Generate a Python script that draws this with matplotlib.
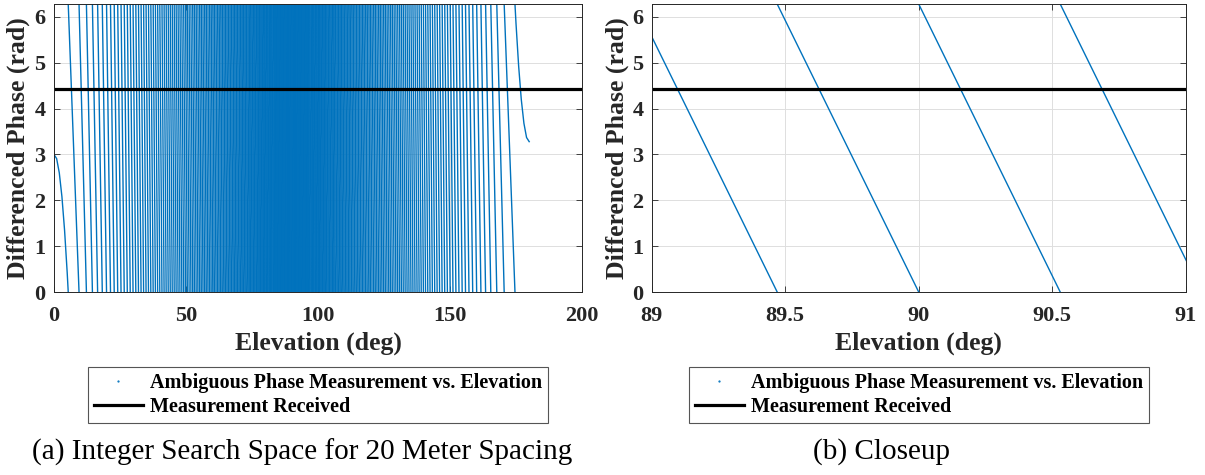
import numpy as np
import matplotlib
matplotlib.use("Agg")
import matplotlib.pyplot as plt
from matplotlib.lines import Line2D

plt.rcParams['font.family'] = ['Liberation Serif', 'DejaVu Serif']

# elevations (deg) where the ambiguous phase hits 0 and wraps back to 2*pi
wrap_deg = [
    5.39, 9.48, 12.28, 14.55, 16.52, 18.29, 19.90, 21.40, 22.81, 24.13,
    25.39, 26.60, 27.76, 28.87, 29.94, 30.99, 32.00, 32.98, 33.94, 34.87,
    35.79, 36.68, 37.56, 38.41, 39.26, 40.08, 40.90, 41.70, 42.48, 43.26,
    44.03, 44.78, 45.53, 46.26, 46.99, 47.71, 48.42, 49.12, 49.82, 50.50,
    51.18, 51.86, 52.53, 53.19, 53.85, 54.50, 55.15, 55.79, 56.42, 57.05,
    57.68, 58.30, 58.92, 59.54, 60.15, 60.75, 61.36, 61.96, 62.56, 63.15,
    63.74, 64.33, 64.91, 65.49, 66.07, 66.65, 67.22, 67.80, 68.36, 68.93,
    69.49, 70.06, 70.62, 71.18, 71.73, 72.29, 72.84, 73.40, 73.95, 74.49,
    75.04, 75.59, 76.13, 76.68, 77.22, 77.76, 78.30, 78.84, 79.38, 79.91,
    80.45, 80.98, 81.52, 82.05, 82.58, 83.12, 83.65, 84.18, 84.71, 85.24,
    85.77, 86.30, 86.83, 87.36, 87.89, 88.42, 88.94, 89.47, 90.00,
    90.53, 91.06, 91.58, 92.11, 92.64, 93.17, 93.70, 94.23, 94.76, 95.29,
    95.82, 96.35, 96.88, 97.42, 97.95, 98.48, 99.02, 99.55, 100.09, 100.62,
    101.16, 101.70, 102.24, 102.78, 103.32, 103.87, 104.41, 104.96, 105.51, 106.05,
    106.60, 107.16, 107.71, 108.27, 108.82, 109.38, 109.94, 110.51, 111.07, 111.64,
    112.20, 112.78, 113.35, 113.93, 114.51, 115.09, 115.67, 116.26, 116.85, 117.44,
    118.04, 118.64, 119.25, 119.85, 120.46, 121.08, 121.70, 122.32, 122.95, 123.58,
    124.21, 124.85, 125.50, 126.15, 126.81, 127.47, 128.14, 128.82, 129.50, 130.18,
    130.88, 131.58, 132.29, 133.01, 133.74, 134.47, 135.22, 135.97, 136.74, 137.52,
    138.30, 139.10, 139.92, 140.74, 141.59, 142.44, 143.32, 144.21, 145.13, 146.06,
    147.02, 148.00, 149.01, 150.06, 151.13, 152.24, 153.40, 154.61, 155.87, 157.19,
    158.60, 160.10, 161.71, 163.48, 165.45, 167.72, 170.52, 174.61,
]
# curved pieces at both ends of the elevation range
start_deg = [0, 1, 2, 3, 4, 5, 5.39]
start_phase = [3.00, 2.91, 2.60, 2.08, 1.35, 0.42, 0.0]
end_deg = [174.61, 175, 176, 177, 178, 179, 180]
end_phase = [6.28, 5.86, 4.93, 4.20, 3.68, 3.37, 3.28]

phase_top = 2 * np.pi
measured_phase = 4.42

labels = ['Ambiguous Phase Measurement vs. Elevation', 'Measurement Received']
captions = ['(a) Integer Search Space for 20 Meter Spacing', '(b) Closeup']

# build one series, broken with nan at every wrap
xs = list(start_deg) + [np.nan]
ys = list(start_phase) + [np.nan]
for a, b in zip(wrap_deg[:-1], wrap_deg[1:]):
    xs += [a, b, np.nan]
    ys += [phase_top, 0.0, np.nan]
xs += end_deg
ys += end_phase

blue = '#0072BD'
dark = '#262626'
W, H = 1205, 475

fig = plt.figure(figsize=(W / 100, H / 100), dpi=100)
ax1 = fig.add_axes([54 / W, 1 - 292 / H, 528 / W, 288 / H])
ax2 = fig.add_axes([651.7 / W, 1 - 292 / H, 534 / W, 288 / H])

for ax in (ax1, ax2):
    ax.plot(xs, ys, color=blue, lw=1.0)
    ax.axhline(measured_phase, color='k', lw=2.3)
    ax.set_ylim(0, phase_top)
    ax.set_yticks(range(7))
    ax.grid(True, color='#dedede', lw=0.7)
    ax.set_axisbelow(True)
    ax.tick_params(direction='in', length=4, width=0.6, color=dark, top=True, right=True,
                   labelsize=16, labelcolor=dark, pad=6)
    ax.tick_params(axis='x', pad=10)
    for sp in ax.spines.values():
        sp.set_color(dark)
        sp.set_linewidth(0.7)
    ax.set_xlabel('Elevation (deg)', fontsize=18.5, fontweight='bold', color=dark, va='center')
    ax.set_ylabel('Differenced Phase (rad)', fontsize=18.5, fontweight='bold', color=dark, va='center')
    ax.xaxis.set_label_coords(0.5, (292 - 343) / 288)

ax1.set_xlim(0, 200)
ax1.set_xticks([0, 50, 100, 150, 200])
ax2.set_xlim(89, 91)
ax2.set_xticks([89, 89.5, 90, 90.5, 91])
ax2.set_xticklabels(['89', '89.5', '90', '90.5', '91'])
for lab in ax1.get_xticklabels() + ax2.get_xticklabels() + ax1.get_yticklabels() + ax2.get_yticklabels():
    lab.set_fontweight('bold')
ax1.yaxis.set_label_coords((18 - 54) / 528, 0.5)
ax2.yaxis.set_label_coords((617 - 651.7) / 534, 0.5)

handles = [Line2D([], [], color=blue, marker='.', ms=1.2, ls='none'),
           Line2D([], [], color='k', lw=2.3)]
for cx in (318, 919):
    leg = fig.legend(handles, labels, loc='center', bbox_to_anchor=(cx / W, 1 - 394.7 / H),
                     prop={'family': 'Liberation Serif', 'weight': 'bold', 'size': 14.5},
                     handlelength=2.4, handletextpad=0.35, borderpad=0.3, labelspacing=0.2,
                     fancybox=False, framealpha=1, edgecolor='#555555')
    leg.get_frame().set_linewidth(0.8)

fig.text(302.5 / W, 1 - 452 / H, captions[0], ha='center', va='center', fontsize=21)
fig.text(881.5 / W, 1 - 452 / H, captions[1], ha='center', va='center', fontsize=21)

fig.savefig('out.png', dpi=100)
